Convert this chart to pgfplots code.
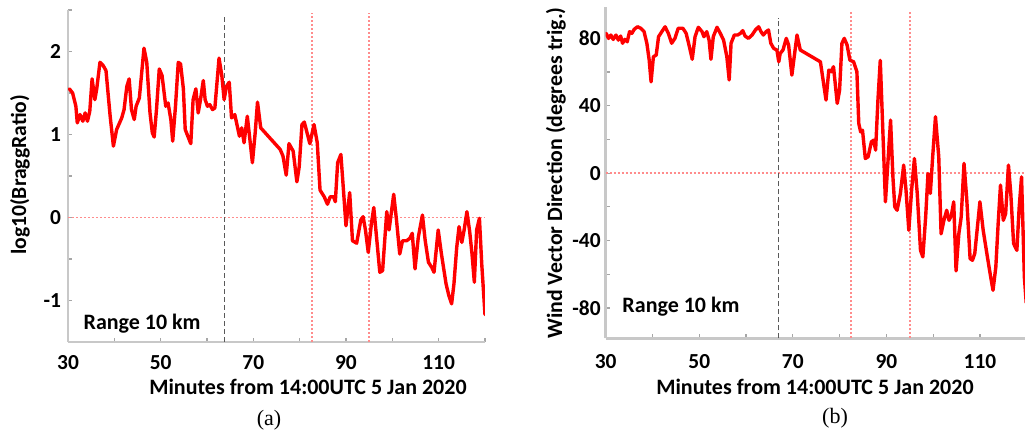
\documentclass[border=0pt]{standalone}
\usepackage{fontspec}
\setmainfont{Carlito}
\newfontfamily\capfont{Liberation Serif}
\usepackage{pgfplots}
\usepackage{pgfplotstable}
\pgfplotsset{compat=1.18}

\pgfplotstableread{
t v
30.3 1.55
31.0 1.50
31.7 1.34
32.0 1.14
32.6 1.24
33.2 1.16
33.7 1.26
34.2 1.16
34.7 1.28
35.2 1.67
35.8 1.42
36.2 1.55
36.9 1.87
37.6 1.83
38.2 1.77
39.1 1.22
39.8 0.86
40.5 1.06
41.6 1.20
42.1 1.30
42.7 1.58
43.2 1.67
43.7 1.30
44.3 1.18
44.7 1.34
45.4 1.44
46.4 2.04
47.0 1.87
47.7 1.26
48.2 1.02
48.6 0.97
49.1 1.30
49.7 1.79
50.3 1.71
51.1 1.34
51.6 1.38
52.2 1.18
52.6 0.92
53.2 1.34
53.8 1.87
54.3 1.85
54.9 1.55
55.3 1.06
56.0 0.96
56.5 0.89
57.0 1.42
57.6 1.55
58.1 1.26
58.6 1.42
59.2 1.65
59.6 1.42
60.1 1.34
60.6 1.36
61.2 1.30
61.7 1.32
62.6 1.92
63.2 1.71
63.7 1.42
64.2 1.58
64.8 1.63
65.3 1.20
66.0 1.24
67.0 0.98
67.5 1.08
68.0 0.90
68.7 1.22
69.1 1.02
69.8 0.66
70.4 1.02
70.9 1.39
71.6 1.08
75.8 0.82
76.4 0.74
77.1 0.51
77.7 0.89
78.6 0.80
79.4 0.43
79.9 0.61
80.5 1.12
81.0 1.15
81.6 1.02
82.2 0.89
83.1 1.12
83.8 0.90
84.4 0.33
85.3 0.25
86.0 0.16
86.6 0.25
87.3 0.25
87.7 0.19
88.2 0.66
88.9 0.76
89.4 0.37
90.0 -0.10
90.8 0.30
91.4 -0.28
92.3 -0.31
93.2 -0.03
93.7 0.01
94.2 -0.15
94.8 -0.42
95.5 -0.07
96.0 0.12
96.6 -0.24
97.3 -0.66
97.9 -0.64
98.8 0.07
99.3 -0.15
100.3 0.28
100.9 -0.03
101.6 -0.44
102.2 -0.28
103.1 -0.28
103.8 -0.25
104.3 -0.19
104.9 -0.62
105.6 -0.24
106.5 0.03
107.1 -0.28
107.8 -0.54
108.5 -0.60
109.0 -0.66
109.9 -0.15
110.6 -0.44
111.6 -0.80
112.2 -0.94
112.8 -1.04
113.3 -0.80
113.9 -0.36
114.4 -0.11
115.0 -0.30
115.5 -0.15
116.1 0.07
116.7 -0.17
117.2 -0.44
117.7 -0.78
118.2 -0.15
118.8 -0.01
119.3 -0.56
120.0 -1.17
}\dataA

\pgfplotstableread{
t v
30.1 83.0
30.6 80.0
31.1 82.0
31.6 79.4
32.2 82.0
32.7 79.0
33.2 81.4
33.6 77.1
34.1 79.4
34.6 78.0
35.1 84.0
35.6 83.0
36.1 85.4
36.8 86.9
37.5 86.0
38.2 84.0
38.8 77.1
39.3 67.1
39.7 54.2
40.2 69.1
40.8 70.1
41.3 81.0
42.0 84.0
42.7 86.9
43.4 83.0
44.1 77.1
44.8 80.0
45.5 86.0
46.5 86.0
47.2 83.0
47.9 75.0
48.5 67.6
49.1 81.0
49.8 86.6
50.6 84.0
51.0 81.0
51.6 84.0
52.1 79.0
52.5 67.6
53.0 81.0
53.8 86.6
54.5 83.0
55.2 79.0
55.9 69.1
56.4 55.3
56.8 77.1
57.5 82.0
58.2 82.0
58.8 83.0
59.3 84.6
59.8 81.4
60.5 80.0
61.3 82.0
62.0 85.0
62.7 86.9
63.2 84.0
63.7 82.0
64.3 84.0
64.8 85.0
65.3 77.1
65.9 74.1
66.6 73.1
67.0 66.1
67.3 71.1
67.9 73.1
68.6 80.0
69.1 76.1
69.8 58.2
70.3 69.1
70.9 82.0
71.6 73.1
75.9 66.1
77.1 43.4
77.7 61.2
78.2 60.2
78.7 63.2
79.5 41.4
80.0 49.3
80.5 77.1
81.0 80.0
81.6 76.1
82.2 67.1
83.0 66.1
83.7 60.2
84.1 29.5
84.5 24.5
84.9 25.5
85.5 8.7
86.1 9.7
86.8 18.6
87.3 19.6
87.7 13.7
88.2 43.4
88.7 67.0
89.8 -17.0
90.9 31.5
91.4 -2.2
91.8 -20.0
92.3 -22.0
93.0 -12.0
93.7 4.8
94.2 -10.0
94.8 -33.9
95.4 -10.0
96.0 8.7
96.6 -12.0
97.3 -45.8
97.8 -49.7
98.4 -26.0
98.9 -0.2
99.4 -12.0
99.9 9.7
100.5 33.5
101.2 9.7
101.7 -36.0
102.3 -28.0
102.9 -22.0
103.4 -28.0
103.9 -25.0
104.4 -17.0
104.9 -58.0
105.5 -35.8
106.0 -26.0
106.6 5.8
107.2 -16.0
107.9 -50.7
108.4 -51.7
108.9 -47.7
110.0 -17.0
110.7 -33.9
111.6 -49.7
112.3 -61.6
112.8 -69.5
113.4 -55.7
113.9 -29.9
114.4 -7.1
115.0 -28.0
115.5 -24.0
116.1 4.8
116.6 -12.0
117.2 -41.8
117.9 -45.8
118.4 -20.0
118.9 -2.2
119.5 -61.6
119.9 -77.0
}\dataB

\definecolor{curvered}{RGB}{255,0,0}
\definecolor{refred}{RGB}{255,140,140}
\definecolor{axgray}{RGB}{200,200,200}

\pgfplotsset{
  base/.style={
    scale only axis,
    axis x line=bottom, axis y line=left,
    axis line style={draw=axgray, line width=1.3pt, -},
    tick align=inside, major tick length=2pt,
    tick style={draw=black!35, line width=0.6pt},
    xmin=30, xmax=120, xtick={30,40,...,120},
    xticklabels={30,,50,,70,,90,,110,},
    ticklabel style={font=\fontsize{10.7}{12}\selectfont\bfseries},
    /pgf/number format/assume math mode=true,
  },
  curve/.style={curvered, line width=1.7pt, line join=round, line cap=round},
  refdot/.style={refred, dash pattern=on 0.9pt off 1.1pt, line width=0.9pt},
  refdash/.style={black!65, dash pattern=on 2.5pt off 1.5pt, line width=0.55pt},
}

\begin{document}
\begin{tikzpicture}
\useasboundingbox (0pt,0pt) rectangle (512.5pt,217pt);

\begin{axis}[base, at={(34pt,46pt)}, anchor=south west,
  width=208.5pt, height=166pt,
  ymin=-1.5, ymax=2.5, ytick={-1.5,-1,...,2.5},
  yticklabels={,-1,,0,,1,,2,},
  xticklabel style={yshift=-3pt}]
  \addplot[refdot] coordinates {(30,0) (120,0)};
  \addplot[refdot] coordinates {(82.6,-1.5) (82.6,2.46)};
  \addplot[refdot] coordinates {(95,-1.5) (95,2.46)};
  \addplot[refdash] coordinates {(63.7,-1.5) (63.7,2.42)};
  \addplot[curve] table[x=t,y=v] {\dataA};
  \node[font=\fontsize{11}{13}\selectfont\bfseries] at (axis cs:46,-1.28) {Range 10 km};
\end{axis}

\begin{axis}[base, at={(302.85pt,47.85pt)}, anchor=south west,
  width=210.5pt, height=165.8pt,
  ymin=-98, ymax=98.8, ytick={-80,-60,...,80},
  yticklabels={-80,,-40,,0,,40,,80},
  xticklabel style={yshift=-4.5pt}, yticklabel style={xshift=1pt}]
  \addplot[refdot] coordinates {(30,0) (120,0)};
  \addplot[refdot] coordinates {(82.5,-98) (82.5,96)};
  \addplot[refdot] coordinates {(95,-98) (95,96)};
  \addplot[refdash] coordinates {(67,-98) (67,92)};
  \addplot[curve] table[x=t,y=v] {\dataB};
  \node[font=\fontsize{11}{13}\selectfont\bfseries] at (axis cs:46.1,-79) {Range 10 km};
\end{axis}

\node[font=\fontsize{10.8}{12}\selectfont\bfseries, rotate=90] at (10pt,129.5pt) {log10(BraggRatio)};
\node[font=\fontsize{10.9}{12}\selectfont\bfseries, rotate=90] at (278pt,130.5pt) {Wind Vector Direction (degrees trig.)};
\node[font=\fontsize{11}{13}\selectfont\bfseries] at (154pt,23.5pt) {Minutes from 14:00UTC 5 Jan 2020};
\node[font=\fontsize{11}{13}\selectfont\bfseries] at (407.5pt,23.5pt) {Minutes from 14:00UTC 5 Jan 2020};
\node[font=\capfont\fontsize{11}{13}\selectfont] at (134.5pt,7pt) {(a)};
\node[font=\capfont\fontsize{11}{13}\selectfont] at (417.5pt,8pt) {(b)};
\end{tikzpicture}
\end{document}
